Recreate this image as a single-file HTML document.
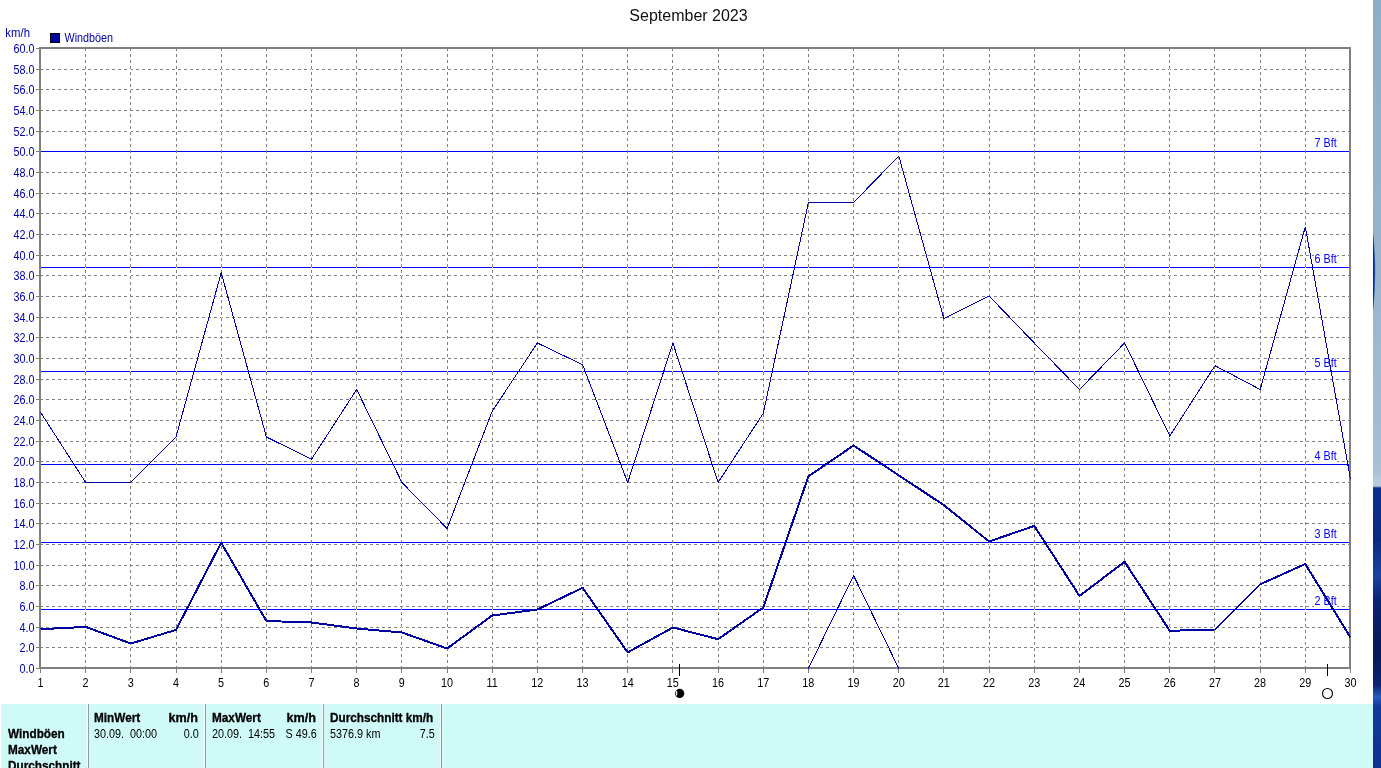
<!DOCTYPE html>
<html lang="de">
<head>
<meta charset="utf-8">
<title>September 2023 - Windböen</title>
<style>
html,body{margin:0;padding:0;background:#fff;}
body{width:1381px;height:768px;position:relative;overflow:hidden;font-family:"Liberation Sans",Arial,sans-serif;}
#strip{position:absolute;left:1373px;top:0;width:8px;height:768px;
 background:linear-gradient(to bottom,#8eafc9 0px,#96b3cc 230px,#a2bbd2 400px,#aabfd4 470px,#b9cbdd 481px,#b9cbdd 486px,#0c3090 488px,#0a2a82 540px,#1a44a2 575px,#0a2474 600px,#07185a 650px,#0a2270 685px,#2a5cc0 697px,#123a9a 706px,#0e3192 768px);}
#strip svg{position:absolute;left:0;top:0;}
#panel{will-change:transform;position:absolute;left:1px;top:704px;width:1372px;height:64px;background:#cffaf8;font-size:12px;color:#000;line-height:16px;}
#panel .sep{position:absolute;top:0;width:1px;height:64px;background:#9a9a9a;box-shadow:-1px 0 0 #fff;}
#panel span{position:absolute;white-space:pre;transform:scaleX(0.9);transform-origin:0 0;}
#panel b{position:absolute;white-space:pre;font-weight:bold;-webkit-text-stroke:0.3px #000;transform:scaleX(0.98);transform-origin:0 0;}
#panel .r{transform-origin:100% 0;}
#panel b.k{transform:scaleX(1.05);}
</style>
</head>
<body>
<svg width="1373" height="704" viewBox="0 0 1373 704" style="position:absolute;left:0;top:0;will-change:transform">
<g shape-rendering="crispEdges" fill="none">
<g stroke="#808080" stroke-width="1" stroke-dasharray="3 3">
<line x1="40" y1="647.5" x2="1349" y2="647.5"/>
<line x1="40" y1="627.5" x2="1349" y2="627.5"/>
<line x1="40" y1="606.5" x2="1349" y2="606.5"/>
<line x1="40" y1="585.5" x2="1349" y2="585.5"/>
<line x1="40" y1="565.5" x2="1349" y2="565.5"/>
<line x1="40" y1="544.5" x2="1349" y2="544.5"/>
<line x1="40" y1="523.5" x2="1349" y2="523.5"/>
<line x1="40" y1="503.5" x2="1349" y2="503.5"/>
<line x1="40" y1="482.5" x2="1349" y2="482.5"/>
<line x1="40" y1="461.5" x2="1349" y2="461.5"/>
<line x1="40" y1="441.5" x2="1349" y2="441.5"/>
<line x1="40" y1="420.5" x2="1349" y2="420.5"/>
<line x1="40" y1="399.5" x2="1349" y2="399.5"/>
<line x1="40" y1="379.5" x2="1349" y2="379.5"/>
<line x1="40" y1="358.5" x2="1349" y2="358.5"/>
<line x1="40" y1="337.5" x2="1349" y2="337.5"/>
<line x1="40" y1="317.5" x2="1349" y2="317.5"/>
<line x1="40" y1="296.5" x2="1349" y2="296.5"/>
<line x1="40" y1="275.5" x2="1349" y2="275.5"/>
<line x1="40" y1="255.5" x2="1349" y2="255.5"/>
<line x1="40" y1="234.5" x2="1349" y2="234.5"/>
<line x1="40" y1="213.5" x2="1349" y2="213.5"/>
<line x1="40" y1="193.5" x2="1349" y2="193.5"/>
<line x1="40" y1="172.5" x2="1349" y2="172.5"/>
<line x1="40" y1="151.5" x2="1349" y2="151.5"/>
<line x1="40" y1="131.5" x2="1349" y2="131.5"/>
<line x1="40" y1="110.5" x2="1349" y2="110.5"/>
<line x1="40" y1="89.5" x2="1349" y2="89.5"/>
<line x1="40" y1="69.5" x2="1349" y2="69.5"/>
</g>
<g stroke="#0000ff" stroke-width="1">
<line x1="41" y1="609.5" x2="1349" y2="609.5"/>
<line x1="41" y1="542.5" x2="1349" y2="542.5"/>
<line x1="41" y1="464.5" x2="1349" y2="464.5"/>
<line x1="41" y1="371.5" x2="1349" y2="371.5"/>
<line x1="41" y1="267.5" x2="1349" y2="267.5"/>
<line x1="41" y1="151.5" x2="1349" y2="151.5"/>
</g>
<g stroke="#fff" stroke-width="1">
<line x1="85.5" y1="48" x2="85.5" y2="667"/>
<line x1="130.5" y1="48" x2="130.5" y2="667"/>
<line x1="176.5" y1="48" x2="176.5" y2="667"/>
<line x1="221.5" y1="48" x2="221.5" y2="667"/>
<line x1="266.5" y1="48" x2="266.5" y2="667"/>
<line x1="311.5" y1="48" x2="311.5" y2="667"/>
<line x1="356.5" y1="48" x2="356.5" y2="667"/>
<line x1="401.5" y1="48" x2="401.5" y2="667"/>
<line x1="447.5" y1="48" x2="447.5" y2="667"/>
<line x1="492.5" y1="48" x2="492.5" y2="667"/>
<line x1="537.5" y1="48" x2="537.5" y2="667"/>
<line x1="582.5" y1="48" x2="582.5" y2="667"/>
<line x1="627.5" y1="48" x2="627.5" y2="667"/>
<line x1="672.5" y1="48" x2="672.5" y2="667"/>
<line x1="718.5" y1="48" x2="718.5" y2="667"/>
<line x1="763.5" y1="48" x2="763.5" y2="667"/>
<line x1="808.5" y1="48" x2="808.5" y2="667"/>
<line x1="853.5" y1="48" x2="853.5" y2="667"/>
<line x1="898.5" y1="48" x2="898.5" y2="667"/>
<line x1="943.5" y1="48" x2="943.5" y2="667"/>
<line x1="989.5" y1="48" x2="989.5" y2="667"/>
<line x1="1034.5" y1="48" x2="1034.5" y2="667"/>
<line x1="1079.5" y1="48" x2="1079.5" y2="667"/>
<line x1="1124.5" y1="48" x2="1124.5" y2="667"/>
<line x1="1169.5" y1="48" x2="1169.5" y2="667"/>
<line x1="1214.5" y1="48" x2="1214.5" y2="667"/>
<line x1="1260.5" y1="48" x2="1260.5" y2="667"/>
<line x1="1305.5" y1="48" x2="1305.5" y2="667"/>
</g>
<g stroke="#808080" stroke-width="1" stroke-dasharray="3 3">
<line x1="85.5" y1="48" x2="85.5" y2="667"/>
<line x1="130.5" y1="48" x2="130.5" y2="667"/>
<line x1="176.5" y1="48" x2="176.5" y2="667"/>
<line x1="221.5" y1="48" x2="221.5" y2="667"/>
<line x1="266.5" y1="48" x2="266.5" y2="667"/>
<line x1="311.5" y1="48" x2="311.5" y2="667"/>
<line x1="356.5" y1="48" x2="356.5" y2="667"/>
<line x1="401.5" y1="48" x2="401.5" y2="667"/>
<line x1="447.5" y1="48" x2="447.5" y2="667"/>
<line x1="492.5" y1="48" x2="492.5" y2="667"/>
<line x1="537.5" y1="48" x2="537.5" y2="667"/>
<line x1="582.5" y1="48" x2="582.5" y2="667"/>
<line x1="627.5" y1="48" x2="627.5" y2="667"/>
<line x1="672.5" y1="48" x2="672.5" y2="667"/>
<line x1="718.5" y1="48" x2="718.5" y2="667"/>
<line x1="763.5" y1="48" x2="763.5" y2="667"/>
<line x1="808.5" y1="48" x2="808.5" y2="667"/>
<line x1="853.5" y1="48" x2="853.5" y2="667"/>
<line x1="898.5" y1="48" x2="898.5" y2="667"/>
<line x1="943.5" y1="48" x2="943.5" y2="667"/>
<line x1="989.5" y1="48" x2="989.5" y2="667"/>
<line x1="1034.5" y1="48" x2="1034.5" y2="667"/>
<line x1="1079.5" y1="48" x2="1079.5" y2="667"/>
<line x1="1124.5" y1="48" x2="1124.5" y2="667"/>
<line x1="1169.5" y1="48" x2="1169.5" y2="667"/>
<line x1="1214.5" y1="48" x2="1214.5" y2="667"/>
<line x1="1260.5" y1="48" x2="1260.5" y2="667"/>
<line x1="1305.5" y1="48" x2="1305.5" y2="667"/>
</g>
<g stroke="#808080" stroke-width="1">
<line x1="36" y1="668.5" x2="40" y2="668.5"/>
<line x1="36" y1="647.5" x2="40" y2="647.5"/>
<line x1="36" y1="627.5" x2="40" y2="627.5"/>
<line x1="36" y1="606.5" x2="40" y2="606.5"/>
<line x1="36" y1="585.5" x2="40" y2="585.5"/>
<line x1="36" y1="565.5" x2="40" y2="565.5"/>
<line x1="36" y1="544.5" x2="40" y2="544.5"/>
<line x1="36" y1="523.5" x2="40" y2="523.5"/>
<line x1="36" y1="503.5" x2="40" y2="503.5"/>
<line x1="36" y1="482.5" x2="40" y2="482.5"/>
<line x1="36" y1="461.5" x2="40" y2="461.5"/>
<line x1="36" y1="441.5" x2="40" y2="441.5"/>
<line x1="36" y1="420.5" x2="40" y2="420.5"/>
<line x1="36" y1="399.5" x2="40" y2="399.5"/>
<line x1="36" y1="379.5" x2="40" y2="379.5"/>
<line x1="36" y1="358.5" x2="40" y2="358.5"/>
<line x1="36" y1="337.5" x2="40" y2="337.5"/>
<line x1="36" y1="317.5" x2="40" y2="317.5"/>
<line x1="36" y1="296.5" x2="40" y2="296.5"/>
<line x1="36" y1="275.5" x2="40" y2="275.5"/>
<line x1="36" y1="255.5" x2="40" y2="255.5"/>
<line x1="36" y1="234.5" x2="40" y2="234.5"/>
<line x1="36" y1="213.5" x2="40" y2="213.5"/>
<line x1="36" y1="193.5" x2="40" y2="193.5"/>
<line x1="36" y1="172.5" x2="40" y2="172.5"/>
<line x1="36" y1="151.5" x2="40" y2="151.5"/>
<line x1="36" y1="131.5" x2="40" y2="131.5"/>
<line x1="36" y1="110.5" x2="40" y2="110.5"/>
<line x1="36" y1="89.5" x2="40" y2="89.5"/>
<line x1="36" y1="69.5" x2="40" y2="69.5"/>
<line x1="36" y1="48.5" x2="40" y2="48.5"/>
<line x1="40.5" y1="668" x2="40.5" y2="673"/>
<line x1="85.5" y1="668" x2="85.5" y2="673"/>
<line x1="130.5" y1="668" x2="130.5" y2="673"/>
<line x1="176.5" y1="668" x2="176.5" y2="673"/>
<line x1="221.5" y1="668" x2="221.5" y2="673"/>
<line x1="266.5" y1="668" x2="266.5" y2="673"/>
<line x1="311.5" y1="668" x2="311.5" y2="673"/>
<line x1="356.5" y1="668" x2="356.5" y2="673"/>
<line x1="401.5" y1="668" x2="401.5" y2="673"/>
<line x1="447.5" y1="668" x2="447.5" y2="673"/>
<line x1="492.5" y1="668" x2="492.5" y2="673"/>
<line x1="537.5" y1="668" x2="537.5" y2="673"/>
<line x1="582.5" y1="668" x2="582.5" y2="673"/>
<line x1="627.5" y1="668" x2="627.5" y2="673"/>
<line x1="672.5" y1="668" x2="672.5" y2="673"/>
<line x1="718.5" y1="668" x2="718.5" y2="673"/>
<line x1="763.5" y1="668" x2="763.5" y2="673"/>
<line x1="808.5" y1="668" x2="808.5" y2="673"/>
<line x1="853.5" y1="668" x2="853.5" y2="673"/>
<line x1="898.5" y1="668" x2="898.5" y2="673"/>
<line x1="943.5" y1="668" x2="943.5" y2="673"/>
<line x1="989.5" y1="668" x2="989.5" y2="673"/>
<line x1="1034.5" y1="668" x2="1034.5" y2="673"/>
<line x1="1079.5" y1="668" x2="1079.5" y2="673"/>
<line x1="1124.5" y1="668" x2="1124.5" y2="673"/>
<line x1="1169.5" y1="668" x2="1169.5" y2="673"/>
<line x1="1214.5" y1="668" x2="1214.5" y2="673"/>
<line x1="1260.5" y1="668" x2="1260.5" y2="673"/>
<line x1="1305.5" y1="668" x2="1305.5" y2="673"/>
<line x1="1350.5" y1="668" x2="1350.5" y2="673"/>
</g>
<rect x="40" y="48" width="1310" height="620" stroke="#808080" stroke-width="2"/>
</g>
<g font-family="'Liberation Sans',Arial,sans-serif" fill="#0000ff">
<rect x="1314" y="594" width="23" height="13" fill="#fff"/>
<text transform="translate(1314.60,605) scale(0.900,1)" font-size="12">2 Bft</text>
<rect x="1314" y="527" width="23" height="13" fill="#fff"/>
<text transform="translate(1314.60,538) scale(0.900,1)" font-size="12">3 Bft</text>
<rect x="1314" y="449" width="23" height="13" fill="#fff"/>
<text transform="translate(1314.60,460) scale(0.900,1)" font-size="12">4 Bft</text>
<rect x="1314" y="356" width="23" height="13" fill="#fff"/>
<text transform="translate(1314.60,367) scale(0.900,1)" font-size="12">5 Bft</text>
<rect x="1314" y="252" width="23" height="13" fill="#fff"/>
<text transform="translate(1314.60,263) scale(0.900,1)" font-size="12">6 Bft</text>
<rect x="1314" y="136" width="23" height="13" fill="#fff"/>
<text transform="translate(1314.60,147) scale(0.900,1)" font-size="12">7 Bft</text>
</g>
<g shape-rendering="crispEdges" fill="none" stroke="#0000a0">
<polyline points="40.5,412.2 85.7,482.5 130.8,482.5 176.0,437.0 221.2,272.7 266.4,437.0 311.5,459.2 356.7,389.5 401.9,482.5 447.1,528.5 492.2,411.2 537.4,343.0 582.6,364.7 627.7,482.5 672.9,343.0 718.1,482.5 763.3,413.3 808.4,202.5 853.6,202.5 898.8,156.0 943.9,318.7 989.1,296.0 1034.3,343.0 1079.5,389.5 1124.6,343.0 1169.8,436.0 1215.0,365.7 1260.2,389.5 1305.3,226.8 1350.5,479.4" stroke-width="1"/>
<polyline points="808.4,668.5 853.6,575.5 898.8,668.5" stroke-width="1"/>
<polyline points="40.5,629.2 85.7,626.9 130.8,643.5 176.0,629.9 221.2,542.8 266.4,621.0 311.5,622.5 356.7,628.5 401.9,632.5 447.1,648.5 492.2,615.5 537.4,609.5 582.6,587.8 627.7,652.4 672.9,627.5 718.1,639.2 763.3,607.5 808.4,476.3 853.6,445.5 898.8,475.3 943.9,505.2 989.1,541.5 1034.3,525.9 1079.5,595.9 1124.6,561.8 1169.8,630.8 1215.0,629.5 1260.2,584.3 1305.3,564.0 1350.5,637.5" stroke-width="2" stroke-linejoin="round"/>
<line x1="679.5" y1="664" x2="679.5" y2="676" stroke="#000"/>
<line x1="1327.5" y1="664" x2="1327.5" y2="676" stroke="#000"/>
</g>
<g font-family="'Liberation Sans',Arial,sans-serif" fill="#0000a0">
<text transform="translate(34.60,673) scale(0.900,1)" font-size="12" text-anchor="end">0.0</text>
<text transform="translate(34.60,652) scale(0.900,1)" font-size="12" text-anchor="end">2.0</text>
<text transform="translate(34.60,632) scale(0.900,1)" font-size="12" text-anchor="end">4.0</text>
<text transform="translate(34.60,611) scale(0.900,1)" font-size="12" text-anchor="end">6.0</text>
<text transform="translate(34.60,590) scale(0.900,1)" font-size="12" text-anchor="end">8.0</text>
<text transform="translate(34.60,570) scale(0.900,1)" font-size="12" text-anchor="end">10.0</text>
<text transform="translate(34.60,549) scale(0.900,1)" font-size="12" text-anchor="end">12.0</text>
<text transform="translate(34.60,528) scale(0.900,1)" font-size="12" text-anchor="end">14.0</text>
<text transform="translate(34.60,508) scale(0.900,1)" font-size="12" text-anchor="end">16.0</text>
<text transform="translate(34.60,487) scale(0.900,1)" font-size="12" text-anchor="end">18.0</text>
<text transform="translate(34.60,466) scale(0.900,1)" font-size="12" text-anchor="end">20.0</text>
<text transform="translate(34.60,446) scale(0.900,1)" font-size="12" text-anchor="end">22.0</text>
<text transform="translate(34.60,425) scale(0.900,1)" font-size="12" text-anchor="end">24.0</text>
<text transform="translate(34.60,404) scale(0.900,1)" font-size="12" text-anchor="end">26.0</text>
<text transform="translate(34.60,384) scale(0.900,1)" font-size="12" text-anchor="end">28.0</text>
<text transform="translate(34.60,363) scale(0.900,1)" font-size="12" text-anchor="end">30.0</text>
<text transform="translate(34.60,342) scale(0.900,1)" font-size="12" text-anchor="end">32.0</text>
<text transform="translate(34.60,322) scale(0.900,1)" font-size="12" text-anchor="end">34.0</text>
<text transform="translate(34.60,301) scale(0.900,1)" font-size="12" text-anchor="end">36.0</text>
<text transform="translate(34.60,280) scale(0.900,1)" font-size="12" text-anchor="end">38.0</text>
<text transform="translate(34.60,260) scale(0.900,1)" font-size="12" text-anchor="end">40.0</text>
<text transform="translate(34.60,239) scale(0.900,1)" font-size="12" text-anchor="end">42.0</text>
<text transform="translate(34.60,218) scale(0.900,1)" font-size="12" text-anchor="end">44.0</text>
<text transform="translate(34.60,198) scale(0.900,1)" font-size="12" text-anchor="end">46.0</text>
<text transform="translate(34.60,177) scale(0.900,1)" font-size="12" text-anchor="end">48.0</text>
<text transform="translate(34.60,156) scale(0.900,1)" font-size="12" text-anchor="end">50.0</text>
<text transform="translate(34.60,136) scale(0.900,1)" font-size="12" text-anchor="end">52.0</text>
<text transform="translate(34.60,115) scale(0.900,1)" font-size="12" text-anchor="end">54.0</text>
<text transform="translate(34.60,94) scale(0.900,1)" font-size="12" text-anchor="end">56.0</text>
<text transform="translate(34.60,74) scale(0.900,1)" font-size="12" text-anchor="end">58.0</text>
<text transform="translate(34.60,53) scale(0.900,1)" font-size="12" text-anchor="end">60.0</text>
<text transform="translate(5.30,37) scale(0.950,1)" font-size="12">km/h</text>
<text transform="translate(64.50,42) scale(0.900,1)" font-size="12">Windböen</text>
</g>
<rect x="50.5" y="33.5" width="9" height="9" fill="#0000a8" stroke="#000" stroke-width="1" shape-rendering="crispEdges"/>
<g font-family="'Liberation Sans',Arial,sans-serif" fill="#000">
<text transform="translate(40.40,687) scale(0.900,1)" font-size="12" text-anchor="middle">1</text>
<text transform="translate(85.57,687) scale(0.900,1)" font-size="12" text-anchor="middle">2</text>
<text transform="translate(130.74,687) scale(0.900,1)" font-size="12" text-anchor="middle">3</text>
<text transform="translate(175.92,687) scale(0.900,1)" font-size="12" text-anchor="middle">4</text>
<text transform="translate(221.09,687) scale(0.900,1)" font-size="12" text-anchor="middle">5</text>
<text transform="translate(266.26,687) scale(0.900,1)" font-size="12" text-anchor="middle">6</text>
<text transform="translate(311.43,687) scale(0.900,1)" font-size="12" text-anchor="middle">7</text>
<text transform="translate(356.61,687) scale(0.900,1)" font-size="12" text-anchor="middle">8</text>
<text transform="translate(401.78,687) scale(0.900,1)" font-size="12" text-anchor="middle">9</text>
<text transform="translate(446.95,687) scale(0.900,1)" font-size="12" text-anchor="middle">10</text>
<text transform="translate(492.12,687) scale(0.900,1)" font-size="12" text-anchor="middle">11</text>
<text transform="translate(537.30,687) scale(0.900,1)" font-size="12" text-anchor="middle">12</text>
<text transform="translate(582.47,687) scale(0.900,1)" font-size="12" text-anchor="middle">13</text>
<text transform="translate(627.64,687) scale(0.900,1)" font-size="12" text-anchor="middle">14</text>
<text transform="translate(672.81,687) scale(0.900,1)" font-size="12" text-anchor="middle">15</text>
<text transform="translate(717.99,687) scale(0.900,1)" font-size="12" text-anchor="middle">16</text>
<text transform="translate(763.16,687) scale(0.900,1)" font-size="12" text-anchor="middle">17</text>
<text transform="translate(808.33,687) scale(0.900,1)" font-size="12" text-anchor="middle">18</text>
<text transform="translate(853.50,687) scale(0.900,1)" font-size="12" text-anchor="middle">19</text>
<text transform="translate(898.68,687) scale(0.900,1)" font-size="12" text-anchor="middle">20</text>
<text transform="translate(943.85,687) scale(0.900,1)" font-size="12" text-anchor="middle">21</text>
<text transform="translate(989.02,687) scale(0.900,1)" font-size="12" text-anchor="middle">22</text>
<text transform="translate(1034.19,687) scale(0.900,1)" font-size="12" text-anchor="middle">23</text>
<text transform="translate(1079.37,687) scale(0.900,1)" font-size="12" text-anchor="middle">24</text>
<text transform="translate(1124.54,687) scale(0.900,1)" font-size="12" text-anchor="middle">25</text>
<text transform="translate(1169.71,687) scale(0.900,1)" font-size="12" text-anchor="middle">26</text>
<text transform="translate(1214.88,687) scale(0.900,1)" font-size="12" text-anchor="middle">27</text>
<text transform="translate(1260.06,687) scale(0.900,1)" font-size="12" text-anchor="middle">28</text>
<text transform="translate(1305.23,687) scale(0.900,1)" font-size="12" text-anchor="middle">29</text>
<text transform="translate(1350.40,687) scale(0.900,1)" font-size="12" text-anchor="middle">30</text>
</g>
<text x="688.5" y="21" font-family="'Liberation Sans',Arial,sans-serif" font-size="16" fill="#111" text-anchor="middle">September 2023</text>
<circle cx="679.7" cy="693.4" r="4.6" fill="#000"/>
<ellipse cx="676.6" cy="693.2" rx="0.7" ry="2.6" fill="#fff"/>
<circle cx="1327.5" cy="693.5" r="5" fill="#fff" stroke="#000" stroke-width="1.1"/>
</svg>
<div id="strip"><svg width="8" height="768" viewBox="0 0 8 768"><path d="M0,231 Q4.6,272 0,313 Z" fill="#4a78cc"/><path d="M0,234 Q3.4,272 0,310 Z" fill="#0a2a8c"/></svg></div>
<div id="panel">
<div class="sep" style="left:87px"></div>
<div class="sep" style="left:204px"></div>
<div class="sep" style="left:322px"></div>
<div class="sep" style="left:440px"></div>
<b style="left:7px;top:22px">Windböen</b>
<b style="left:7px;top:38px">MaxWert</b>
<b style="left:7px;top:54px">Durchschnitt</b>
<b style="left:93px;top:6px">MinWert</b>
<b class="r k" style="right:1174.5px;top:6px">km/h</b>
<span style="left:93px;top:22px">30.09.  00:00</span>
<span class="r" style="right:1174.7px;top:22px">0.0</span>
<b style="left:211px;top:6px">MaxWert</b>
<b class="r k" style="right:1056.5px;top:6px">km/h</b>
<span style="left:211px;top:22px">20.09.  14:55</span>
<span class="r" style="right:1056.4px;top:22px">S 49.6</span>
<b style="left:329px;top:6px">Durchschnitt km/h</b>
<span style="left:329px;top:22px">5376.9 km</span>
<span class="r" style="right:938.5px;top:22px">7.5</span>
</div>
</body>
</html>
